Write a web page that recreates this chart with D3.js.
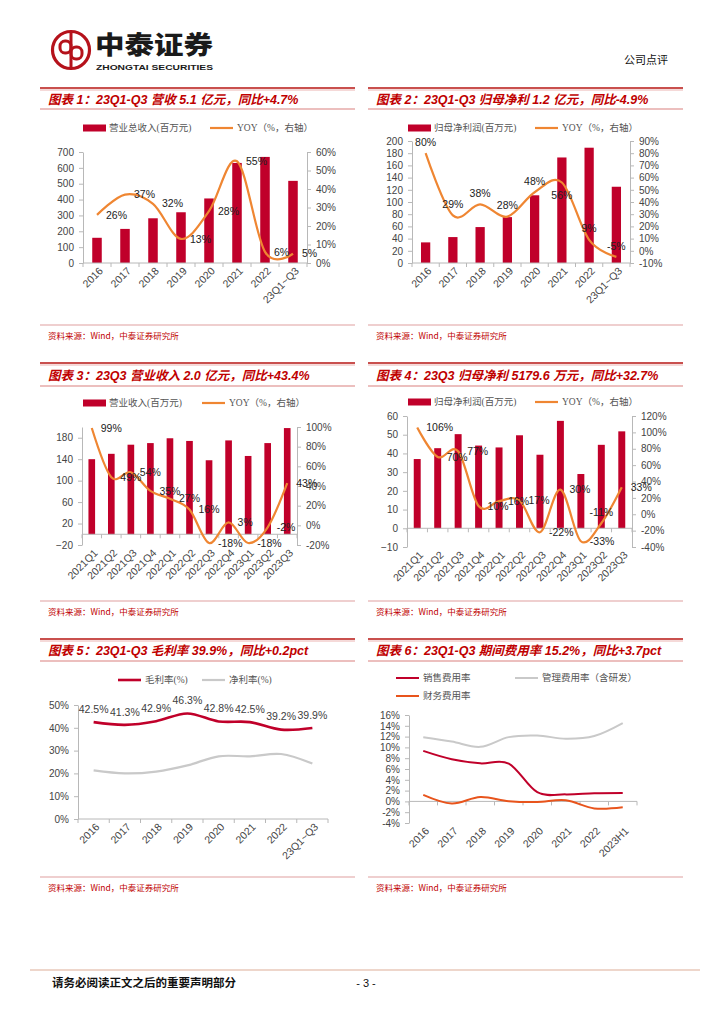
<!DOCTYPE html>
<html><head><meta charset="utf-8">
<script src="https://cdn.jsdelivr.net/npm/d3@7/dist/d3.min.js"></script>
<style>body{margin:0;background:#fff}svg{display:block}</style>
</head><body>
<script>
// ---------- DATA ----------
const years = ['2016','2017','2018','2019','2020','2021','2022','23Q1~Q3'];
const revenue = [159,215,282,320,407,631,669,518];
const revenueYoy = [26,37,32,13,28,55,6,5];
const netProfit = [33.8,42.5,58.9,75.2,111,173,189,125];
const netProfitYoy = [80,29,38,28,48,56,9,-5];
const quarters = ['2021Q1','2021Q2','2021Q3','2021Q4','2022Q1','2022Q2','2022Q3','2022Q4','2023Q1','2023Q2','2023Q3'];
const qRevenue = [140,150,167,170,179,174,138,175,146,170,198];
const qRevenueYoy = [99,49,54,35,27,16,-18,3,-18,-2,43];
const qNetProfit = [37,42.8,50.3,44.2,43.2,49.7,39.3,57.4,29,44.6,51.8];
const qNetProfitYoy = [106,70,77,10,16,17,-22,30,-33,-11,33];
const grossMargin = [42.5,41.3,42.9,46.3,42.8,42.5,39.2,39.9];
const netMargin = [21.3,20.0,20.8,23.5,27.5,27.5,28.5,24.3];
const expYears = ['2016','2017','2018','2019','2020','2021','2022','2023H1'];
const salesExp = [9.35,7.8,7.05,7.0,1.7,1.3,1.5,1.55];
const adminExp = [11.9,11.1,10.1,11.9,12.2,11.6,12.1,14.5];
const finExp = [1.2,-0.4,0.8,0.05,-0.1,0.2,-1.3,-1.1];

const ticks1L = [0,100,200,300,400,500,600,700];
const ticks1R = [0,10,20,30,40,50,60];
const ticks2L = [0,20,40,60,80,100,120,140,160,180,200];
const ticks2R = [-10,0,10,20,30,40,50,60,70,80,90];
const ticks3L = [-20,20,60,100,140,180];
const ticks3R = [-20,0,20,40,60,80,100];
const ticks4L = [-10,0,10,20,30,40,50,60];
const ticks4R = [-40,-20,0,20,40,60,80,100,120];
const ticks5 = [0,10,20,30,40,50];
const ticks6 = [-4,-2,0,2,4,6,8,10,12,14,16];

const titles = [
  '图表 1：23Q1-Q3 营收 5.1 亿元，同比+4.7%',
  '图表 2：23Q1-Q3 归母净利 1.2 亿元，同比-4.9%',
  '图表 3：23Q3 营业收入 2.0 亿元，同比+43.4%',
  '图表 4：23Q3 归母净利 5179.6 万元，同比+32.7%',
  '图表 5：23Q1-Q3 毛利率 39.9%，同比+0.2pct',
  '图表 6：23Q1-Q3 期间费用率 15.2%，同比+3.7pct'
];
const sourceText = '资料来源：Wind，中泰证券研究所';

// label placement (style): r = right, a = above, b = below
const place1 = ['r','r','r','r','r','r','r','r'];
const place2 = ['a','a','a','a','a','b','a','a'];
const place3 = ['r','r','r','r','r','r','r','r','r','r','r'];
const place4 = ['r','r','r','r','r','r','r','r','r','a','r'];

// ---------- STYLE ----------
const RED = '#C0002A';
const ORANGE = '#EF8632';
const GRAY = '#C9C9C9';
const FIN = '#E8541C';
const AXIS = '#B8B8B8';
const TXT = '#444';
const CJK = '"Noto Sans CJK SC", sans-serif';
const NUM = '"Liberation Sans", Arial, "Noto Sans CJK SC", sans-serif';
const LEG = '"Liberation Serif", "Noto Sans CJK SC", serif';
const smooth = d3.curveCardinal.tension(0);

const svg = d3.select('body').append('svg').attr('width',724).attr('height',1024);

// ---------- HEADER ----------
const logo = svg.append('g').attr('fill','none').attr('stroke','#B5121B');
logo.append('circle').attr('cx',71).attr('cy',50).attr('r',18.5).attr('stroke-width',3.2);
logo.append('line').attr('x1',71).attr('x2',71).attr('y1',33).attr('y2',67).attr('stroke-width',3);
logo.append('rect').attr('x',60).attr('y',41).attr('width',11).attr('height',12).attr('rx',5).attr('stroke-width',3);
logo.append('rect').attr('x',71).attr('y',47).attr('width',11).attr('height',12).attr('rx',5).attr('stroke-width',3);
svg.append('text').attr('x',95).attr('y',54).text('中泰证券')
  .attr('font-family',CJK).attr('font-weight',900).attr('font-size',25).attr('fill','#1a1a1a')
  .attr('textLength',118).attr('lengthAdjust','spacingAndGlyphs');
svg.append('text').attr('x',96).attr('y',70).text('ZHONGTAI SECURITIES')
  .attr('font-family',NUM).attr('font-weight',700).attr('font-size',8).attr('fill','#1a1a1a')
  .attr('textLength',117).attr('lengthAdjust','spacingAndGlyphs');
svg.append('text').attr('x',668).attr('y',64).attr('text-anchor','end').text('公司点评')
  .attr('font-family',CJK).attr('font-size',11).attr('fill','#111');

// ---------- PANEL FRAMES ----------
const panels = [
  {x0:40,x1:355,tTop:88,tBot:109,bot:325},
  {x0:368,x1:683,tTop:88,tBot:109,bot:325},
  {x0:40,x1:355,tTop:363,tBot:386,bot:601},
  {x0:368,x1:683,tTop:363,tBot:386,bot:601},
  {x0:40,x1:355,tTop:639,tBot:661,bot:877},
  {x0:368,x1:683,tTop:639,tBot:661,bot:877}
];
panels.forEach((p,i)=>{
  svg.append('line').attr('x1',p.x0).attr('x2',p.x1).attr('y1',p.tTop).attr('y2',p.tTop).attr('stroke','#C9504E').attr('stroke-width',2);
  svg.append('line').attr('x1',p.x0).attr('x2',p.x1).attr('y1',p.tTop+2).attr('y2',p.tTop+2).attr('stroke','#EBB4B2').attr('stroke-width',1);
  svg.append('line').attr('x1',p.x0).attr('x2',p.x1).attr('y1',p.tBot).attr('y2',p.tBot).attr('stroke','#D9807E').attr('stroke-width',1.2);
  svg.append('text').attr('x',p.x0+8).attr('y',(p.tTop+p.tBot)/2+1).attr('dy','0.35em').text(titles[i])
    .attr('font-family',NUM).attr('font-weight',700).attr('font-style','italic').attr('font-size',12.5).attr('fill','#C00000');
  svg.append('line').attr('x1',p.x0).attr('x2',p.x1).attr('y1',p.bot).attr('y2',p.bot).attr('stroke','#E0A0A0').attr('stroke-width',1.2);
  svg.append('text').attr('x',p.x0+8).attr('y',p.bot+11).attr('dy','0.35em').text(sourceText)
    .attr('font-family',CJK).attr('font-size',8.5).attr('fill','#C00000');
});

// ---------- FOOTER ----------
svg.append('line').attr('x1',30).attr('x2',700).attr('y1',970).attr('y2',970).attr('stroke','#E9C9BA').attr('stroke-width',1.5);
svg.append('text').attr('x',52).attr('y',983).attr('dy','0.35em').text('请务必阅读正文之后的重要声明部分')
  .attr('font-family',CJK).attr('font-weight',700).attr('font-size',11.5).attr('fill','#111');
svg.append('text').attr('x',366).attr('y',983).attr('dy','0.35em').attr('text-anchor','middle').text('- 3 -')
  .attr('font-family',NUM).attr('font-size',11).attr('fill','#111');

// ---------- HELPERS ----------
function styleAxis(g){
  g.select('.domain').attr('stroke',AXIS);
  g.selectAll('.tick line').attr('stroke',AXIS);
  g.selectAll('.tick text').attr('font-family',NUM).attr('font-size',10).attr('fill',TXT);
}
function xAxisMarks(g, x, n, y, cats, labY){
  const step = x.step();
  const x0 = x.range()[0];
  g.append('line').attr('x1',x0).attr('x2',x.range()[1]).attr('y1',y).attr('y2',y).attr('stroke',AXIS);
  g.selectAll(null).data(d3.range(n+1)).join('line')
    .attr('x1',i=>x0+i*step).attr('x2',i=>x0+i*step).attr('y1',y).attr('y2',y+4).attr('stroke',AXIS);
  g.selectAll(null).data(cats).join('text')
    .attr('transform',d=>`translate(${x(d)+x.bandwidth()/2+4},${labY+6}) rotate(-45)`)
    .attr('text-anchor','end').attr('dy','0.35em').text(d=>d)
    .attr('font-family',NUM).attr('font-size',10.5).attr('fill',TXT);
}
function legendBar(g,x,y,label){
  g.append('rect').attr('x',x).attr('y',y-3.5).attr('width',23).attr('height',7).attr('fill',RED);
  g.append('text').attr('x',x+26).attr('y',y).attr('dy','0.35em').text(label)
    .attr('font-family',LEG).attr('font-size',9.5).attr('fill','#555');
}
function legendLine(g,x,y,color,label,w){
  g.append('line').attr('x1',x).attr('x2',x+23).attr('y1',y).attr('y2',y).attr('stroke',color).attr('stroke-width',w||2.2);
  g.append('text').attr('x',x+27).attr('y',y).attr('dy','0.35em').text(label)
    .attr('font-family',LEG).attr('font-size',9.5).attr('fill','#555');
}

function comboChart(o){
  const g = svg.append('g');
  const n = o.cats.length;
  const x = d3.scaleBand().domain(o.cats).range([o.x0,o.x1]).paddingInner(0.66).paddingOuter(0.33);
  const yL = d3.scaleLinear().domain(o.lDom).range([o.yBot,o.yTop]);
  const yR = d3.scaleLinear().domain(o.rDom).range([o.yBot,o.yTop]);
  g.selectAll(null).data(o.bars).join('rect')
    .attr('x',(d,i)=>x(o.cats[i])).attr('width',x.bandwidth())
    .attr('y',d=>yL(Math.max(0,d))).attr('height',d=>Math.abs(yL(d)-yL(0))).attr('fill',RED);
  g.append('g').attr('transform',`translate(${o.x0},0)`)
    .call(d3.axisLeft(yL).tickValues(o.lTicks).tickSize(4).tickPadding(5).tickSizeOuter(0)).call(styleAxis);
  g.append('g').attr('transform',`translate(${o.x1},0)`)
    .call(d3.axisRight(yR).tickValues(o.rTicks).tickSize(4).tickPadding(5).tickSizeOuter(0).tickFormat(d=>d+'%')).call(styleAxis);
  xAxisMarks(g, x, n, yL(0), o.cats, o.yBot);
  const line = d3.line().x((d,i)=>x(o.cats[i])+x.bandwidth()/2).y(d=>yR(d)).curve(smooth);
  g.append('path').datum(o.yoy).attr('d',line).attr('fill','none').attr('stroke',ORANGE).attr('stroke-width',2.2);
  g.selectAll(null).data(o.yoy).join('text')
    .attr('x',(d,i)=>{const cx=x(o.cats[i])+x.bandwidth()/2; return o.place[i]==='r'?cx+9:cx;})
    .attr('y',(d,i)=>yR(d)+(o.place[i]==='a'?-11:o.place[i]==='b'?13:0))
    .attr('text-anchor',(d,i)=>o.place[i]==='r'?'start':'middle')
    .attr('dy','0.35em').text(d=>d+'%')
    .attr('font-family',NUM).attr('font-size',10.5).attr('fill','#222');
  legendBar(g,o.legX,o.legY,o.barLabel);
  legendLine(g,o.legX2,o.legY,ORANGE,'YOY（%，右轴）');
}

comboChart({cats:years,bars:revenue,yoy:revenueYoy,x0:83,x1:307,yTop:152,yBot:263,
  lDom:[0,700],lTicks:ticks1L,rDom:[0,60],rTicks:ticks1R,place:place1,
  legX:83,legX2:210,legY:128,barLabel:'营业总收入(百万元)'});
comboChart({cats:years,bars:netProfit,yoy:netProfitYoy,x0:412,x1:630,yTop:141,yBot:263,
  lDom:[0,200],lTicks:ticks2L,rDom:[-10,90],rTicks:ticks2R,place:place2,
  legX:408,legX2:535,legY:128,barLabel:'归母净利润(百万元)'});
comboChart({cats:quarters,bars:qRevenue,yoy:qRevenueYoy,x0:82,x1:297,yTop:427,yBot:545,
  lDom:[-20,200],lTicks:ticks3L,rDom:[-20,100],rTicks:ticks3R,place:place3,
  legX:83,legX2:202,legY:403,barLabel:'营业收入(百万元)'});
comboChart({cats:quarters,bars:qNetProfit,yoy:qNetProfitYoy,x0:407,x1:632,yTop:416,yBot:547,
  lDom:[-10,60],lTicks:ticks4L,rDom:[-40,120],rTicks:ticks4R,place:place4,
  legX:408,legX2:535,legY:402,barLabel:'归母净利润(百万元)'});

// ---------- CHART 5 ----------
(function(){
  const g = svg.append('g');
  const x = d3.scaleBand().domain(years).range([78,328]);
  const y = d3.scaleLinear().domain([0,50]).range([819,705]);
  g.append('g').attr('transform','translate(78,0)')
    .call(d3.axisLeft(y).tickValues(ticks5).tickSize(4).tickPadding(5).tickSizeOuter(0).tickFormat(d=>d+'%')).call(styleAxis);
  xAxisMarks(g, x, years.length, y(0), years, 819);
  const line = d3.line().x((d,i)=>x(years[i])+x.bandwidth()/2).y(d=>y(d)).curve(smooth);
  g.append('path').datum(netMargin).attr('d',line).attr('fill','none').attr('stroke',GRAY).attr('stroke-width',2.2);
  g.append('path').datum(grossMargin).attr('d',line).attr('fill','none').attr('stroke',RED).attr('stroke-width',2.6);
  g.selectAll(null).data(grossMargin).join('text')
    .attr('x',(d,i)=>x(years[i])+x.bandwidth()/2).attr('y',d=>y(d)-13).attr('dy','0.35em')
    .attr('text-anchor','middle').text(d=>d.toFixed(1)+'%')
    .attr('font-family',NUM).attr('font-size',10.5).attr('fill','#404040');
  legendLine(g,118,680,RED,'毛利率(%)',2.6);
  legendLine(g,202,680,GRAY,'净利率(%)',2.2);
})();

// ---------- CHART 6 ----------
(function(){
  const g = svg.append('g');
  const x = d3.scaleBand().domain(expYears).range([409,637]);
  const y = d3.scaleLinear().domain([-4,16]).range([823,715]);
  g.append('g').attr('transform','translate(409,0)')
    .call(d3.axisLeft(y).tickValues(ticks6).tickSize(4).tickPadding(5).tickSizeOuter(0).tickFormat(d=>d+'%')).call(styleAxis);
  xAxisMarks(g, x, expYears.length, y(0), expYears, 823);
  const line = d3.line().x((d,i)=>x(expYears[i])+x.bandwidth()/2).y(d=>y(d)).curve(smooth);
  g.append('path').datum(adminExp).attr('d',line).attr('fill','none').attr('stroke',GRAY).attr('stroke-width',2);
  g.append('path').datum(salesExp).attr('d',line).attr('fill','none').attr('stroke',RED).attr('stroke-width',2);
  g.append('path').datum(finExp).attr('d',line).attr('fill','none').attr('stroke',FIN).attr('stroke-width',2);
  legendLine(g,396,678,RED,'销售费用率',2);
  legendLine(g,515,678,GRAY,'管理费用率（含研发）',2);
  legendLine(g,396,696,FIN,'财务费用率',2);
})();
</script>
</body></html>
